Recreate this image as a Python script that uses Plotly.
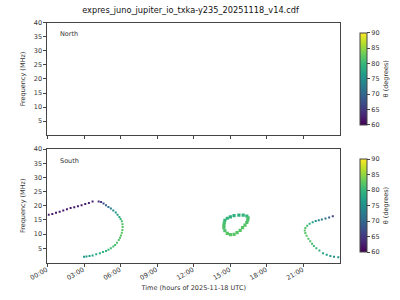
import numpy as np
import pandas as pd
import plotly.graph_objects as go
from plotly.subplots import make_subplots

title = "expres_juno_jupiter_io_txka-y235_20251118_v14.cdf"
day = "2025-11-18"

# South hemisphere emission: hours, frequency (MHz), theta (deg)
arc1_t = [0.1, 0.4, 0.7, 1.0, 1.3, 1.6, 1.9, 2.2, 2.5, 2.8, 3.1, 3.4, 3.7, 4.2, 4.4, 4.6, 4.8,
          5.0, 5.2, 5.4, 5.6, 5.75, 5.9, 6.0, 6.1, 6.15, 6.17, 6.15, 6.1, 6.03, 5.95, 5.85,
          5.7, 5.55, 5.4, 5.2, 5.0, 4.8, 4.55, 4.3, 4.0, 3.7, 3.45, 3.2, 3.0]
arc1_f = [16.8, 17.1, 17.5, 17.9, 18.3, 18.8, 19.2, 19.5, 19.8, 20.2, 20.6, 21.0, 21.5, 21.5, 21.3,
          20.8, 20.2, 19.6, 19.0, 18.3, 17.6, 16.8, 16.0, 15.3, 14.5, 13.5, 12.5, 11.5, 10.5, 9.5,
          8.7, 7.9, 7.0, 6.2, 5.6, 5.0, 4.5, 4.1, 3.7, 3.3, 2.9, 2.5, 2.3, 2.1, 2.0]
arc1_th = [62, 62, 62, 62, 62, 62, 62, 62, 62, 62, 62, 62.5, 63, 64, 65, 67, 69,
           71, 72.5, 74, 75.5, 77, 78.5, 80, 81, 81.5, 82, 82, 82, 82, 81.5, 81.5,
           81.5, 81, 81, 80.5, 80, 79.5, 79, 78.5, 78, 77.5, 77, 76.5, 76.5]

oval_t = [14.5, 14.55, 14.75, 15.0, 15.3, 15.7, 16.05, 16.35, 16.45, 16.42, 16.35, 16.2, 16.0,
          15.8, 15.55, 15.3, 15.0, 14.75, 14.55, 14.47, 14.47]
oval_f = [14.0, 14.9, 15.6, 16.1, 16.5, 16.7, 16.7, 16.4, 15.7, 14.9, 14.1, 13.2, 12.3, 11.3,
          10.5, 9.9, 9.8, 10.3, 11.2, 12.2, 13.1]
oval_th = [81, 80, 79.5, 79, 79, 79, 79.5, 80, 81, 81.5, 81.5, 82, 82, 82, 82, 82, 82, 82,
           81.5, 81.5, 81.5]

arc2_t = [23.4, 23.1, 22.8, 22.5, 22.25, 22.0, 21.75, 21.5, 21.3, 21.15, 21.1, 21.15, 21.25,
          21.4, 21.55, 21.7, 21.85, 22.05, 22.3, 22.6, 22.9, 23.2, 23.5, 23.85]
arc2_f = [16.3, 15.9, 15.5, 15.2, 14.9, 14.6, 14.2, 13.7, 13.0, 12.2, 11.3, 10.4, 9.4, 8.4, 7.5,
          6.6, 5.8, 5.0, 4.2, 3.3, 2.7, 2.3, 2.0, 1.85]
arc2_th = [66, 69, 71, 72.5, 74, 75.5, 77, 79, 80.5, 81.5, 82, 82, 82, 81.5, 81.5, 81, 80.5,
           80, 79, 78, 77, 76, 75.5, 75]

theta_min, theta_max = 60, 90
cbar_ticks = [60, 65, 70, 75, 80, 85, 90]
y_ticks = [5, 10, 15, 20, 25, 30, 35, 40]
x_tick_hours = [0, 3, 6, 9, 12, 15, 18, 21]


def to_dt(hours):
    return pd.Timestamp(day) + pd.to_timedelta(np.array(hours), unit="h")


fig = make_subplots(rows=2, cols=1, shared_xaxes=False)

# North (empty, but carries its colorbar)
fig.add_trace(go.Scatter(x=to_dt([12.0]), y=[np.nan], mode="markers",
                         marker=dict(color=[75], coloraxis="coloraxis"),
                         showlegend=False, hoverinfo="skip"), row=1, col=1)

for (t, f, th), sz in [((arc1_t, arc1_f, arc1_th), 2.0), ((oval_t, oval_f, oval_th), 3.2),
                       ((arc2_t, arc2_f, arc2_th), 2.0)]:
    fig.add_trace(go.Scatter(x=to_dt(t), y=f, mode="markers",
                             marker=dict(symbol="square", size=sz, color=th,
                                         coloraxis="coloraxis2", line=dict(width=0)),
                             showlegend=False), row=2, col=1)

font = dict(family="DejaVu Sans", size=6.5, color="#333")
xd = [31 / 400, 350 / 400]
top_dom = [(300 - 133) / 300, (300 - 19) / 300]
bot_dom = [(300 - 262) / 300, (300 - 147) / 300]

xcommon = dict(type="date", range=[to_dt([0])[0], to_dt([24])[0]],
               tickvals=list(to_dt(x_tick_hours)), tickformat="%H:%M", tickangle=-30,
               showgrid=False, zeroline=False, showline=True, linecolor="#444", linewidth=1,
               mirror=True, ticks="outside", ticklen=3, tickcolor="#444", domain=xd,
               tickfont=font)
ycommon = dict(range=[0, 40], tickvals=y_ticks, showgrid=False, zeroline=False, showline=True,
               linecolor="#444", linewidth=1, mirror=True, ticks="outside", ticklen=3,
               tickcolor="#444", tickfont=font,
               title=dict(text="Frequency (MHz)", font=font, standoff=7))

fig.update_layout(
    width=400, height=300, margin=dict(l=0, r=0, t=0, b=0),
    paper_bgcolor="white", plot_bgcolor="white", font=font,
    title=dict(text=title, x=190.5 / 400, xanchor="center", y=1 - 10 / 300, yanchor="middle",
               font=dict(family="DejaVu Sans", size=8.2, color="#111")),
    xaxis=dict(xcommon, showticklabels=False),
    xaxis2=dict(xcommon, ticklabelposition="outside left",
                title=dict(text="Time (hours of 2025-11-18 UTC)", font=font, standoff=4)),
    yaxis=dict(ycommon, domain=top_dom),
    yaxis2=dict(ycommon, domain=bot_dom),
    coloraxis=dict(colorscale="Viridis", cmin=theta_min, cmax=theta_max,
                   colorbar=dict(x=361 / 400, xanchor="left", y=top_dom[1], yanchor="top",
                                 len=top_dom[1] - top_dom[0], lenmode="fraction", thickness=7,
                                 outlinewidth=1, outlinecolor="#444", tickvals=cbar_ticks,
                                 ticks="outside", ticklen=3, tickfont=font,
                                 title=dict(text="θ (degrees)", side="right", font=font))),
    coloraxis2=dict(colorscale="Viridis", cmin=theta_min, cmax=theta_max,
                    colorbar=dict(x=361 / 400, xanchor="left", y=bot_dom[1], yanchor="top",
                                  len=bot_dom[1] - bot_dom[0], lenmode="fraction", thickness=7,
                                  outlinewidth=1, outlinecolor="#444", tickvals=cbar_ticks,
                                  ticks="outside", ticklen=3, tickfont=font,
                                  title=dict(text="θ (degrees)", side="right", font=font))),
    annotations=[
        dict(text="North", xref="paper", yref="paper", x=43 / 400, y=1 - 30 / 300,
             xanchor="left", yanchor="middle", showarrow=False, font=font),
        dict(text="South", xref="paper", yref="paper", x=43 / 400, y=1 - 159 / 300,
             xanchor="left", yanchor="middle", showarrow=False, font=font),
    ],
)

fig.write_html("out.html")
